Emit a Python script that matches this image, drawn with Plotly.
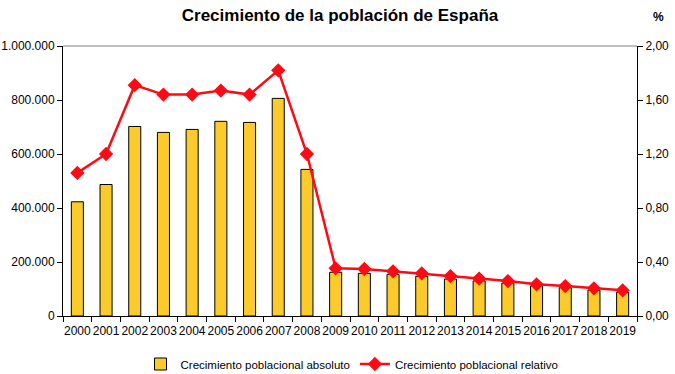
import plotly.graph_objects as go

years = [str(y) for y in range(2000, 2020)]
absoluto = [423000, 487000, 702000, 680000, 691000, 721000, 717000, 806000, 543000, 162000,
            158000, 154000, 147000, 137000, 130000, 122000, 111000, 105000, 96000, 88000]
relativo = [1.06, 1.20, 1.71, 1.64, 1.64, 1.67, 1.64, 1.82, 1.20, 0.353,
            0.348, 0.331, 0.316, 0.296, 0.277, 0.259, 0.235, 0.222, 0.205, 0.19]

fig = go.Figure()
fig.add_trace(go.Bar(x=years, y=absoluto, name="Crecimiento poblacional absoluto",
                     marker=dict(color="#FBCB2B", line=dict(color="black", width=1)),
                     width=0.42))
fig.add_trace(go.Scatter(x=years, y=relativo, name="Crecimiento poblacional relativo",
                         yaxis="y2", mode="lines+markers",
                         line=dict(color="#FF0A14", width=2.5),
                         marker=dict(symbol="diamond", size=11, color="#FF0A14")))

fig.update_layout(
    width=675, height=374,
    margin=dict(l=63, r=38, t=46, b=58, autoexpand=False),
    paper_bgcolor="white", plot_bgcolor="white",
    separators=",.",
    font=dict(family="Liberation Sans, Arial", size=12, color="black"),
    title=dict(text="<b>Crecimiento de la población de España</b>", x=340 / 675, xanchor="center",
               y=1 - 15 / 374, yanchor="middle", font=dict(size=17)),
    showlegend=True,
    legend=dict(orientation="h", x=352 / 675, xanchor="center", yref="container",
                y=10 / 374, yanchor="middle", xref="container",
                font=dict(size=11.5), tracegroupgap=0),
    bargap=0.5,
    xaxis=dict(type="category", showline=True, linecolor="black", linewidth=1,
               ticks="outside", tickson="boundaries", ticklen=5, tickcolor="black",
               showgrid=False, tickfont=dict(size=12), tickangle=0, automargin=False,
               range=[-0.5, 19.5], ticklabelstandoff=4),
    yaxis=dict(range=[0, 1000000], dtick=200000, tickformat=",d", showline=True,
               linecolor="black", linewidth=1, ticks="outside", ticklen=5,
               tickcolor="black", showgrid=False, zeroline=False, automargin=False),
    yaxis2=dict(range=[0, 2], dtick=0.4, tickformat=".2f", overlaying="y", side="right",
                showline=True, linecolor="black", linewidth=1, ticks="outside", ticklen=5,
                tickcolor="black", showgrid=False, zeroline=False, automargin=False),
    shapes=[dict(type="line", xref="paper", yref="paper", x0=0, x1=1, y0=1, y1=1,
                 line=dict(color="#808080", width=1))],
    annotations=[dict(text="<b>%</b>", xref="paper", yref="paper", x=(658-63)/574,
                      y=(316-17)/270, showarrow=False, font=dict(size=12),
                      xanchor="center", yanchor="middle")],
)

fig.write_html("out.html", config={"displayModeBar": False},
               post_script="document.body.style.margin='0';document.body.style.overflow='hidden';")
